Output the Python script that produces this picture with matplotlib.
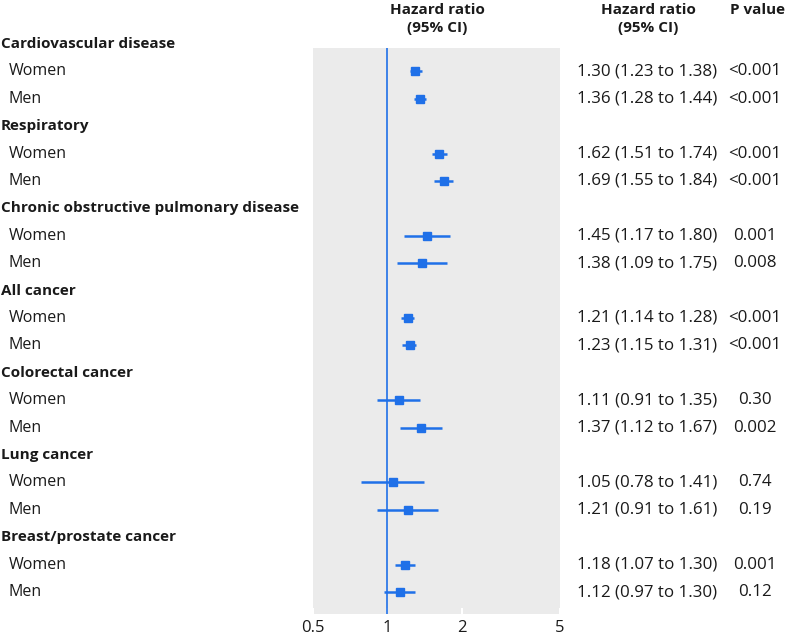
import matplotlib
matplotlib.use('Agg')
import matplotlib.pyplot as plt
import matplotlib.transforms as mtransforms
import numpy as np

# data
groups = ["Cardiovascular disease", "Respiratory", "Chronic obstructive pulmonary disease",
          "All cancer", "Colorectal cancer", "Lung cancer", "Breast/prostate cancer"]
sexes = ["Women", "Men"]
hr = [1.30, 1.36, 1.62, 1.69, 1.45, 1.38, 1.21, 1.23, 1.11, 1.37, 1.05, 1.21, 1.18, 1.12]
lo = [1.23, 1.28, 1.51, 1.55, 1.17, 1.09, 1.14, 1.15, 0.91, 1.12, 0.78, 0.91, 1.07, 0.97]
hi = [1.38, 1.44, 1.74, 1.84, 1.80, 1.75, 1.28, 1.31, 1.35, 1.67, 1.41, 1.61, 1.30, 1.30]
pvals = ["<0.001", "<0.001", "<0.001", "<0.001", "0.001", "0.008", "<0.001", "<0.001",
         "0.30", "0.002", "0.74", "0.19", "0.001", "0.12"]
xticks = [0.5, 1, 2, 5]

BLUE = "#1f70e8"
TXT = "#1a1a1a"
FONT = "Open Sans"
plt.rcParams['font.family'] = [FONT, 'DejaVu Sans']

W, H = 787, 639
fig = plt.figure(figsize=(W / 100, H / 100), dpi=100)
ax = fig.add_axes([313 / W, 1 - 614 / H, (560 - 313) / W, (614 - 48) / H])
ax.set_facecolor("#ebebeb")
ax.set_xscale("log")
ax.set_xlim(0.5, 5)
ax.set_ylim(20.8, 0.15)
for s in ax.spines.values():
    s.set_visible(False)
ax.set_yticks([])
ax.set_xticks(xticks)
ax.set_xticklabels([f"{t:g}" for t in xticks], fontsize=12, color=TXT)
ax.xaxis.set_minor_locator(matplotlib.ticker.NullLocator())
ax.tick_params(axis="x", direction="in", length=4, width=1.5, color="white", pad=4)

ax.axvline(1, color=BLUE, lw=1.2, zorder=2)

# row positions: header then two rows per group
rows = []
header_rows = []
r = 0
for g in groups:
    header_rows.append(r)
    rows += [r + 1, r + 2]
    r += 3

ax.errorbar(hr, rows, xerr=[np.array(hr) - np.array(lo), np.array(hi) - np.array(hr)],
            fmt="s", color=BLUE, ms=6, elinewidth=1.8, capsize=0, zorder=3)

tr = mtransforms.blended_transform_factory(fig.transFigure, ax.transData)
fs = 11.5
fsb = 11
fsn = 12.2
for g, hrow in zip(groups, header_rows):
    ax.text(1 / W, hrow, g, transform=tr, fontsize=fsb, fontweight="bold", color=TXT,
            va="center", ha="left", clip_on=False)
for i, row in enumerate(rows):
    ax.text(9 / W, row, sexes[i % 2], transform=tr, fontsize=fs, color=TXT,
            va="center", ha="left", clip_on=False)
    ax.text(577 / W, row, f"{hr[i]:.2f} ({lo[i]:.2f} to {hi[i]:.2f})", transform=tr,
            fontsize=fsn, color=TXT, va="center", ha="left", clip_on=False)
    ax.text(755 / W, row, pvals[i], transform=tr, fontsize=fsn, color=TXT,
            va="center", ha="center", clip_on=False)

# column headers
fig.text(437 / W, 1 - 19 / H, "Hazard ratio\n(95% CI)", ha="center", va="center",
         fontsize=fsb, fontweight="bold", color=TXT, linespacing=1.3)
fig.text(648 / W, 1 - 19 / H, "Hazard ratio\n(95% CI)", ha="center", va="center",
         fontsize=fsb, fontweight="bold", color=TXT, linespacing=1.3)
fig.text(757 / W, 1 - 10 / H, "P value", ha="center", va="center",
         fontsize=fsb, fontweight="bold", color=TXT)

fig.savefig("out.png", dpi=100)
